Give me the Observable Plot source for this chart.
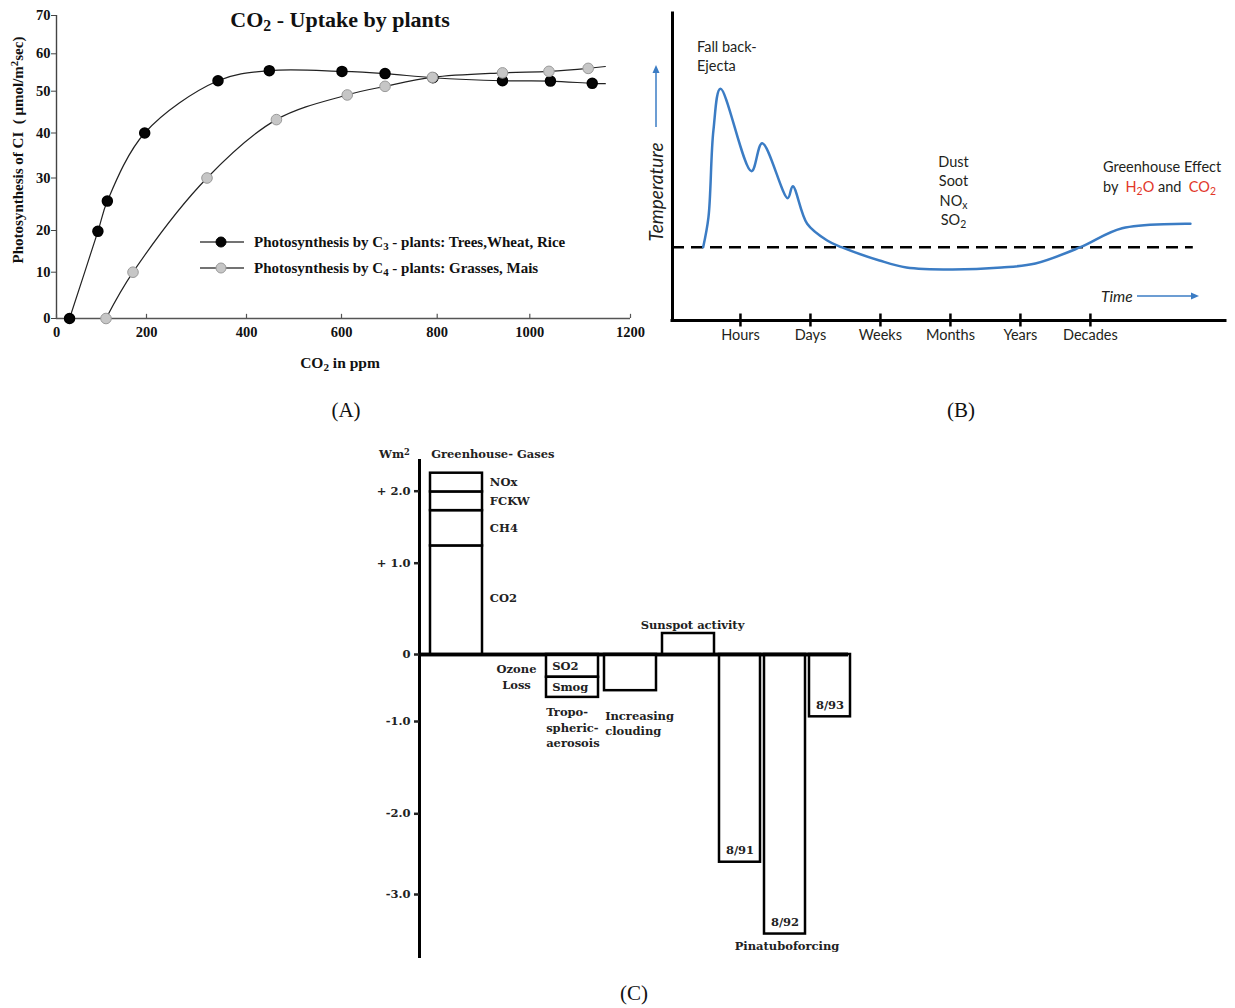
<!DOCTYPE html>
<html>
<head>
<meta charset="utf-8">
<script src="https://cdn.jsdelivr.net/npm/d3@7"></script>
<script src="https://cdn.jsdelivr.net/npm/@observablehq/plot@0.6"></script>
<style>
html, body { margin: 0; padding: 0; background: #fff; }
#page { position: relative; width: 1235px; height: 1008px; overflow: hidden; background: #fff; }
.abs { position: absolute; white-space: nowrap; line-height: 1; }
.times { font-family: "Liberation Serif", "Times New Roman", serif; color: #111; }
.timesb { font-family: "Liberation Serif", "Times New Roman", serif; font-weight: bold; color: #111; }
.camb { font-family: "DejaVu Serif", serif; font-weight: bold; color: #222; }
.sans { font-family: Lato, "Open Sans", sans-serif; color: #231f20; }
.red { color: #e2372a; }
sub { font-size: 0.72em; vertical-align: -0.28em; line-height: 0; }
sup { font-size: 0.72em; vertical-align: 0.45em; line-height: 0; }
.plotbox { position: absolute; }
.plotbox svg { overflow: visible; }
</style>
</head>
<body>
<div id="page"></div>
<script>
// ---------------- Panel A data: CO2 uptake by plants ----------------
const co2C3   = [29, 92, 113, 196, 343, 448, 601, 691, 791, 941, 1041, 1124];
const photoC3 = [0, 19.8, 25.6, 40.0, 52.8, 55.5, 55.3, 54.7, 53.6, 52.8, 52.7, 52.1];
const co2C4   = [110, 170, 321, 463, 612, 691, 790, 941, 1038, 1116];
const photoC4 = [0, 10, 30, 43.2, 49.1, 51.3, 53.7, 54.9, 55.3, 56.1];
const lineEndCo2 = 1150, lineEndC3 = 52.0, lineEndC4 = 56.6;
const xTicksA = [0, 200, 400, 600, 800, 1000, 1200];
const yTicksA = [0, 10, 20, 30, 40, 50, 60, 70];
const seriesA = ["Photosynthesis by C<sub>3</sub> - plants: Trees,Wheat, Rice",
                 "Photosynthesis by C<sub>4</sub> - plants: Grasses, Mais"];

// ---------------- Panel B data: temperature over time ----------------
const timeLabels = ["Hours", "Days", "Weeks", "Months", "Years", "Decades"];
const timeTicks  = [1, 2, 3, 4, 5, 6];
const curveTime  = [0.467, 0.543, 0.614, 0.714, 1.157, 1.31, 1.676, 1.747, 1.953, 2.239, 2.443, 2.986, 3.371, 4.014, 4.729, 5.214, 5.857, 6.453, 7.429];
const curveTemp  = [0, 3.0, 11.7, 15.84, 7.6, 10.4, 4.9, 6.1, 2.34, 0.67, 0, -1.33, -2.03, -2.23, -2.03, -1.63, 0, 1.9, 2.34];
const baselineEnd = 7.47;
const timeDomain = [0.029, 7.93];
const tempDomain = [-7.33, 23.37];

// ---------------- Panel C data: radiative forcing (W/m²) ----------------
const forcingCats = ["Greenhouse", "Ozone", "Aerosol", "Clouding", "Sunspot"];
const ghgComponents = ["CO2", "CH4", "FCKW", "NOx"];
const ghgValues     = [1.24, 0.49, 0.26, 0.26];
const aerosolComponents = ["SO2", "Smog"];
const aerosolValues     = [-0.34, -0.30];
const cloudingValue = -0.54;
const sunspotValue  = 0.23;
const pinatuboCats   = ["8/91", "8/92", "8/93"];
const pinatuboValues = [-2.60, -3.49, -0.93];
const yTicksC = [-3, -2, -1, 0, 1, 2];

// ---------------- helpers ----------------
const page = document.getElementById("page");
function putPlot(svg, left, top) {
  const d = document.createElement("div");
  d.className = "plotbox";
  d.style.left = left + "px"; d.style.top = top + "px";
  d.appendChild(svg); page.appendChild(d);
}
function note(html, x, y, cls, size, opts = {}) {
  const d = document.createElement("div");
  d.className = "abs " + cls;
  d.innerHTML = html;
  d.style.left = x + "px"; d.style.top = y + "px";
  d.style.fontSize = size + "px";
  if (opts.italic) d.style.fontStyle = "italic";
  const tx = opts.align === "center" ? "-50%" : opts.align === "right" ? "-100%" : "0";
  d.style.transform = `translate(${tx},-50%)` + (opts.rotate ? ` rotate(${opts.rotate}deg)` : "");
  page.appendChild(d);
  return d;
}
function svgOverlay(left, top, w, h, inner) {
  const d = document.createElement("div");
  d.className = "abs";
  d.style.left = left + "px"; d.style.top = top + "px";
  d.innerHTML = `<svg width="${w}" height="${h}" style="overflow:visible;display:block">${inner}</svg>`;
  page.appendChild(d);
}

// ================= Panel A =================
const c3 = co2C3.map((x, i) => ({co2: x, rate: photoC3[i]}));
const c4 = co2C4.map((x, i) => ({co2: x, rate: photoC4[i]}));
const c3Line = [...c3, {co2: lineEndCo2, rate: lineEndC3}];
const c4Line = [...c4, {co2: lineEndCo2, rate: lineEndC4}];

const plotA = Plot.plot({
  width: 640, height: 380,
  marginLeft: 56, marginRight: 10, marginTop: 15, marginBottom: 62,
  x: {type: "linear", domain: xTicksA, range: [56, 146, 246, 341, 436.7, 529.3, 630]},
  y: {type: "linear", domain: yTicksA, range: [318, 271.7, 230, 177.5, 132.5, 90.7, 53.3, 15]},
  style: {background: "transparent", fontFamily: "Liberation Serif, serif", fontWeight: "bold", fontSize: "14.5px", color: "#111"},
  marks: [
    Plot.ruleX([0], {y1: 0, y2: 70, stroke: "#444", strokeWidth: 1.4}),
    Plot.ruleY([0], {x1: 0, x2: 1200, stroke: "#555", strokeWidth: 1.6}),
    Plot.ruleX(xTicksA, {y1: 0, y2: 0.9, stroke: "#555", strokeWidth: 1.2}),
    Plot.axisX({ticks: xTicksA, tickSize: 0, tickPadding: 8, tickFormat: d => String(d), label: null}),
    Plot.axisY({ticks: yTicksA, tickSize: 5, tickPadding: 1, tickFormat: d => String(d), label: null, stroke: "#444"}),
    Plot.line(c3Line, {x: "co2", y: "rate", curve: "catmull-rom", stroke: "#222", strokeWidth: 1.2}),
    Plot.line(c4Line, {x: "co2", y: "rate", curve: "catmull-rom", stroke: "#222", strokeWidth: 1.2}),
    Plot.dot(c3, {x: "co2", y: "rate", r: 5, fill: "#050505", stroke: "#000"}),
    Plot.dot(c4, {x: "co2", y: "rate", r: 5.3, fill: "#c6c6c6", stroke: "#9a9a9a", strokeWidth: 1})
  ]
});
putPlot(plotA, 0, 0);

note("CO<sub>2</sub> - Uptake by plants", 340, 20, "timesb", 22, {align: "center"});
note("Photosynthesis of CI&nbsp; ( μmol/m<sup>2</sup>sec)", 18, 150, "timesb", 15, {align: "center", rotate: -90});
note("CO<sub>2</sub> in ppm", 340, 363, "timesb", 15.5, {align: "center"});
// legend
const legendSym = [{fill: "#050505", stroke: "#000"}, {fill: "#c6c6c6", stroke: "#9a9a9a"}];
[241.7, 267.7].forEach((cy, i) => {
  svgOverlay(199, cy - 7, 46, 14,
    `<line x1="1" y1="7" x2="45" y2="7" stroke="#444" stroke-width="1.3"/>` +
    `<circle cx="22" cy="7" r="5" fill="${legendSym[i].fill}" stroke="${legendSym[i].stroke}"/>`);
  note(seriesA[i], 254, cy, "timesb", 15);
});
note("(A)", 346, 410, "times", 21, {align: "center"});

// ================= Panel B =================
const tempCurve = curveTime.map((t, i) => ({t, temp: curveTemp[i]}));
const plotB = Plot.plot({
  width: 595, height: 360,
  marginLeft: 32, marginRight: 10, marginTop: 13, marginBottom: 40,
  x: {domain: timeDomain},
  y: {domain: tempDomain, axis: null},
  style: {background: "transparent", fontFamily: "Lato, sans-serif", fontSize: "14.5px", color: "#231f20"},
  marks: [
    Plot.ruleY([0], {x1: timeDomain[0], x2: baselineEnd, stroke: "#000", strokeWidth: 2.4, strokeDasharray: "12,7"}),
    Plot.line(tempCurve, {x: "t", y: "temp", curve: "catmull-rom", stroke: "#3b7cc4", strokeWidth: 2.5}),
    Plot.ruleX([timeDomain[0]], {y1: tempDomain[0], y2: tempDomain[1], stroke: "#000", strokeWidth: 3, strokeLinecap: "square"}),
    Plot.ruleY([tempDomain[0]], {x1: timeDomain[0], x2: timeDomain[1], stroke: "#000", strokeWidth: 3, strokeLinecap: "square"}),
    Plot.ruleX(timeTicks, {y1: tempDomain[0] - 0.65, y2: tempDomain[0] + 0.65, stroke: "#000", strokeWidth: 2.5}),
    Plot.axisX({ticks: timeTicks, tickSize: 0, tickPadding: 9, tickFormat: i => timeLabels[i - 1], label: null})
  ]
});
putPlot(plotB, 640, 0);

note("Fall back-", 697, 47, "sans", 14.5);
note("Ejecta", 697, 66, "sans", 14.5);
note("Temperature", 655, 192, "sans", 19, {align: "center", rotate: -90, italic: true});
svgOverlay(650, 60, 12, 70,
  `<line x1="6" y1="67" x2="6" y2="9" stroke="#3b7cc4" stroke-width="1.5"/>` +
  `<path d="M6,5 L2.5,13 L9.5,13 Z" fill="#3b7cc4"/>`);
["Dust", "Soot", "NO<sub>x</sub>", "SO<sub>2</sub>"].forEach((t, i) =>
  note(t, 953.5, [161.7, 181, 201, 220][i], "sans", 14.5, {align: "center"}));
note("Greenhouse Effect", 1103, 167, "sans", 14.5);
note("by&nbsp; <span class='red'>H<sub>2</sub>O</span> and&nbsp; <span class='red'>CO<sub>2</sub></span>", 1103, 187, "sans", 14.5);
note("Time", 1101, 297, "sans", 15.5, {italic: true});
svgOverlay(1136, 290, 66, 12,
  `<line x1="1" y1="6" x2="56" y2="6" stroke="#3b7cc4" stroke-width="1.5"/>` +
  `<path d="M63,6 L55,2.5 L55,9.5 Z" fill="#3b7cc4"/>`);
note("(B)", 961, 410, "times", 21, {align: "center"});

// ================= Panel C =================
const forcingRows = [
  ...ghgComponents.map((c, i) => ({cat: "Greenhouse", comp: c, v: ghgValues[i]})),
  ...aerosolComponents.map((c, i) => ({cat: "Aerosol", comp: c, v: aerosolValues[i]})),
  {cat: "Clouding", comp: "Increasing clouding", v: cloudingValue},
  {cat: "Sunspot", comp: "Sunspot activity", v: sunspotValue}
];
const ghgRows = forcingRows.filter(d => d.cat === "Greenhouse");
const aerosolRows = forcingRows.filter(d => d.cat === "Aerosol");
const ghgTotal = d3.sum(ghgValues), aerosolTotal = d3.sum(aerosolValues);
const pinRows = pinatuboCats.map((c, i) => ({cat: c, v: pinatuboValues[i]}));
const deepest = d3.least(pinRows, d => d.v);

const yScaleC = {type: "linear", domain: yTicksC, range: [464, 383.3, 291, 224, 132.7, 60.7]};
const rangeC1 = [66, 359], rangeC2 = [356.7, 492.3];
const bw1 = d3.scaleBand().domain(forcingCats).range(rangeC1).paddingInner(0.1).paddingOuter(0.05).bandwidth();
const styleC = {background: "transparent", fontFamily: "DejaVu Serif, serif", fontWeight: "bold", fontSize: "11.5px", color: "#222"};
const fmtC = v => v > 0 ? "+ " + v.toFixed(1) : v === 0 ? "0" : v.toFixed(1);

const plotC2 = Plot.plot({
  width: 500, height: 540,
  marginLeft: 59, marginRight: 12, marginTop: 30, marginBottom: 14,
  x: {type: "band", domain: pinatuboCats, range: rangeC2, paddingInner: 0.1, paddingOuter: 0.05, axis: null},
  y: {...yScaleC, axis: null},
  style: styleC,
  marks: [
    Plot.barY(pinRows, {x: "cat", y: "v", fill: "white", stroke: "#000", strokeWidth: 2.5}),
    Plot.text(pinRows, {x: "cat", y: "v", text: "cat", lineAnchor: "bottom", dy: -8, fill: "#222"}),
    Plot.text([deepest], {x: "cat", y: "v", text: () => "Pinatuboforcing", lineAnchor: "top", dy: 8, dx: 2, fill: "#222"}),
    Plot.ruleY([0], {stroke: "#000", strokeWidth: 3.5})
  ]
});
putPlot(plotC2, 360, 430);

const plotC1 = Plot.plot({
  width: 500, height: 540,
  marginLeft: 59, marginRight: 12, marginTop: 30, marginBottom: 14,
  x: {type: "band", domain: forcingCats, range: rangeC1, paddingInner: 0.1, paddingOuter: 0.05},
  y: yScaleC,
  style: styleC,
  marks: [
    Plot.barY(forcingRows, {x: "cat", y: "v", fill: "white", stroke: "#000", strokeWidth: 2.5}),
    Plot.text(ghgRows, Plot.stackY({x: "cat", y: "v", text: "comp", textAnchor: "start", dx: bw1 / 2 + 7, fill: "#222"})),
    Plot.text(aerosolRows, Plot.stackY({x: "cat", y: "v", text: "comp", textAnchor: "start", dx: -bw1 / 2 + 6, fill: "#222"})),
    Plot.text([{cat: "Greenhouse", v: ghgTotal}], {x: "cat", y: "v", text: () => "Greenhouse- Gases", textAnchor: "start", lineAnchor: "bottom", dx: -bw1 / 2 + 1, dy: -15, fill: "#222"}),
    Plot.text([{cat: "Ozone", v: 0}], {x: "cat", y: "v", text: () => "Ozone\nLoss", lineAnchor: "top", dy: 7, dx: 2, lineHeight: 1.38, fill: "#222"}),
    Plot.text([{cat: "Aerosol", v: aerosolTotal}], {x: "cat", y: "v", text: () => "Tropo-\nspheric-\naerosois", textAnchor: "start", lineAnchor: "top", dx: -bw1 / 2, dy: 8, lineHeight: 1.35, fill: "#222"}),
    Plot.text([{cat: "Clouding", v: cloudingValue}], {x: "cat", y: "v", text: () => "Increasing\nclouding", textAnchor: "start", lineAnchor: "top", dx: -bw1 / 2 + 1, dy: 18, lineHeight: 1.35, fill: "#222"}),
    Plot.text([{cat: "Sunspot", v: sunspotValue}], {x: "cat", y: "v", text: () => "Sunspot activity", lineAnchor: "bottom", dy: -5, dx: 4, fill: "#222"}),
    Plot.frame({anchor: "left", stroke: "#000", strokeWidth: 3}),
    Plot.axisY({ticks: yTicksC, tickSize: 5, tickPadding: 4, tickFormat: fmtC, label: null, strokeWidth: 2.5}),
    Plot.axisX({ticks: [], label: null}),
    Plot.ruleY([0], {stroke: "#000", strokeWidth: 3.5})
  ]
});
putPlot(plotC1, 360, 430);

note("Wm<sup>2</sup>", 379, 455, "camb", 11.5);
note("(C)", 634, 993, "times", 21, {align: "center"});
</script>
</body>
</html>
